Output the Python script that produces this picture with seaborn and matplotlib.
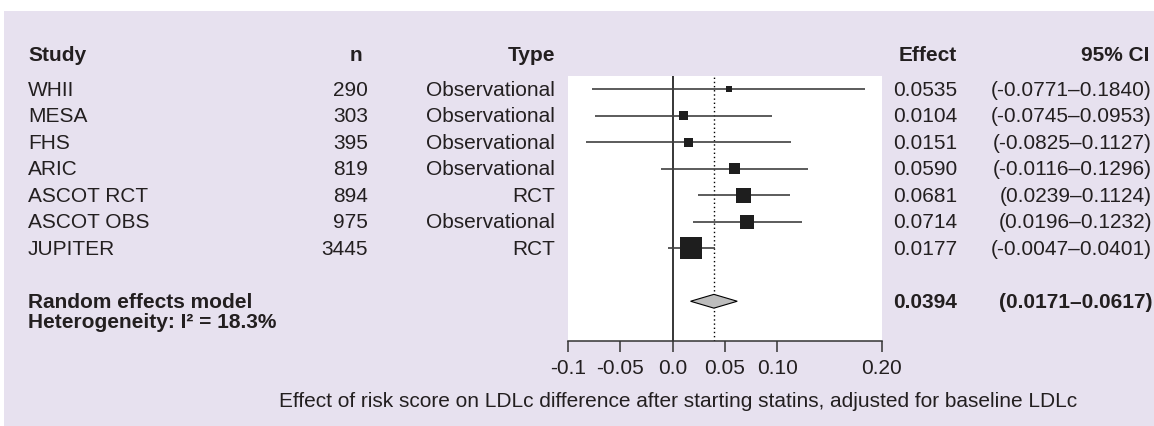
import matplotlib
matplotlib.use("Agg")
import matplotlib.pyplot as plt
import matplotlib.transforms as mtransforms
from matplotlib.patches import Rectangle
import seaborn as sns

# Datos del forest plot
studies = ['WHII', 'MESA', 'FHS', 'ARIC', 'ASCOT RCT', 'ASCOT OBS', 'JUPITER']
n_subjects = [290, 303, 395, 819, 894, 975, 3445]
study_types = ['Observational', 'Observational', 'Observational', 'Observational',
               'RCT', 'Observational', 'RCT']
effects = [0.0535, 0.0104, 0.0151, 0.0590, 0.0681, 0.0714, 0.0177]
ci_low = [-0.0771, -0.0745, -0.0825, -0.0116, 0.0239, 0.0196, -0.0047]
ci_high = [0.1840, 0.0953, 0.1127, 0.1296, 0.1124, 0.1232, 0.0401]
weights = [3.0, 6.6, 6.2, 9.9, 18.5, 16.1, 39.7]  # % (estimado del área de los cuadros)

pooled_effect = 0.0394
pooled_low = 0.0171
pooled_high = 0.0617
i_squared = 18.3

x_ticks = [-0.1, -0.05, 0.0, 0.05, 0.10, 0.20]
x_tick_labels = ['-0.1', '-0.05', '0.0', '0.05', '0.10', '0.20']

x_label = 'Effect of risk score on LDLc difference after starting statins, adjusted for baseline LDLc'

sns.set_theme(style='white')
plt.rcParams['font.family'] = ['Liberation Sans', 'DejaVu Sans']
plt.rcParams['axes.unicode_minus'] = False

FS = 15
TEXT_COLOR = '#231f20'
BG = '#e7e1ef'
W, H = 1154, 427

fig = plt.figure(figsize=(W / 100, H / 100), dpi=100)
fig.patch.set_facecolor('white')
fig.patches.append(Rectangle((4 / W, 0), 1 - 4 / W, 1 - 12 / H, transform=fig.transFigure,
                             facecolor=BG, edgecolor='none', zorder=-10))

ax = fig.add_axes([568 / W, 1 - 342 / H, 314 / W, 265 / H])
ax.set_facecolor('white')

y_pos = list(range(len(studies)))
pooled_y = 8

# Intervalos de confianza
ax.hlines(y_pos, ci_low, ci_high, color='#404040', lw=1.2, zorder=2)

# Cuadros con tamaño según el peso
sns.scatterplot(x=effects, y=y_pos, size=weights, sizes=(0, 630), size_norm=(0, 100),
                marker='s', color='#1e1e1e', edgecolor='none', legend=False, ax=ax, zorder=3)

# Líneas de referencia
ax.axvline(0, color='black', lw=1.1, zorder=1)
ax.axvline(pooled_effect, color='black', lw=1.0, ls=(0, (1, 2)), zorder=1)

# Diamante del modelo de efectos aleatorios
h = 0.26
ax.fill([pooled_low, pooled_effect, pooled_high, pooled_effect],
        [pooled_y, pooled_y - h, pooled_y, pooled_y + h],
        facecolor='#bdbdbd', edgecolor='black', lw=0.8, zorder=3)

ax.set_xlim(-0.1, 0.2)
ax.set_ylim(9.5, -0.5)
ax.set_yticks([])
ax.set_xticks(x_ticks)
ax.set_xticklabels(x_tick_labels, fontsize=FS, color=TEXT_COLOR)
ax.tick_params(axis='x', direction='out', length=8, width=1.1, color='#333333', pad=4, bottom=True)
for side in ['top', 'left', 'right']:
    ax.spines[side].set_visible(False)
ax.spines['bottom'].set_color('#333333')
ax.spines['bottom'].set_linewidth(1.1)
ax.set_xlabel('')
ax.set_ylabel('')

# Columnas de texto
tr = mtransforms.blended_transform_factory(fig.transFigure, ax.transData)
header_y = -1.3
col_study = 28 / W
col_n = 368 / W
col_type = 555 / W
col_eff = 957 / W
col_ci = 1152 / W

txt = dict(transform=tr, fontsize=FS, color=TEXT_COLOR, va='center', clip_on=False)
ax.text(col_study, header_y, 'Study', ha='left', fontweight='bold', **txt)
ax.text(col_n - 6 / W, header_y, 'n', ha='right', fontweight='bold', **txt)
ax.text(col_type, header_y, 'Type', ha='right', fontweight='bold', **txt)
ax.text(col_eff, header_y, 'Effect', ha='right', fontweight='bold', **txt)
ax.text(col_ci - 3 / W, header_y, '95% CI', ha='right', fontweight='bold', **txt)

for i, name in enumerate(studies):
    ax.text(col_study, i, name, ha='left', **txt)
    ax.text(col_n, i, str(n_subjects[i]), ha='right', **txt)
    ax.text(col_type, i, study_types[i], ha='right', **txt)
    ax.text(col_eff, i, f'{effects[i]:.4f}', ha='right', **txt)
    ax.text(col_ci, i, f'({ci_low[i]:.4f}\u2013{ci_high[i]:.4f})', ha='right', **txt)

ax.text(col_study, pooled_y, 'Random effects model', ha='left', fontweight='bold', **txt)
ax.text(col_study, pooled_y + 0.78, f'Heterogeneity: I\u00b2 = {i_squared}%', ha='left',
        fontweight='bold', **txt)
ax.text(col_eff, pooled_y, f'{pooled_effect:.4f}', ha='right', fontweight='bold', **txt)
ax.text(col_ci, pooled_y, f'({pooled_low:.4f}\u2013{pooled_high:.4f})', ha='right',
        fontweight='bold', **txt)

fig.text(678 / W, 1 - 402 / H, x_label, ha='center', va='center', fontsize=FS, color=TEXT_COLOR)

fig.savefig('out.png', dpi=100, facecolor=fig.get_facecolor())
plt.close(fig)
